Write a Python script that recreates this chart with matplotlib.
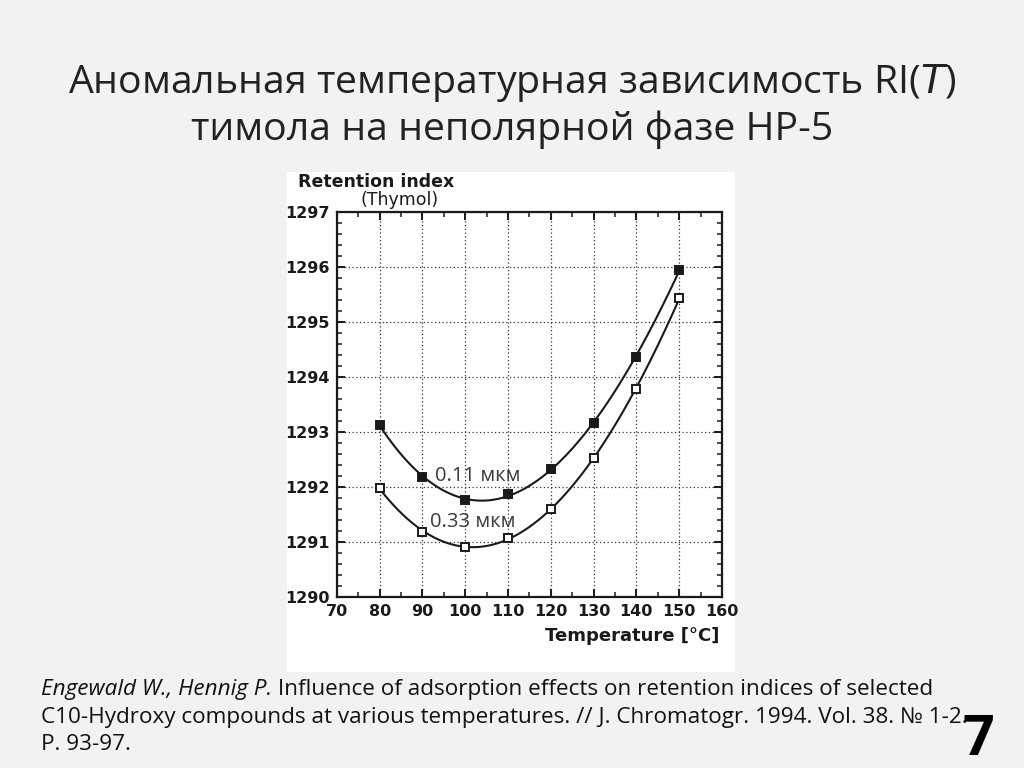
import matplotlib.pyplot as plt
import numpy as np
from matplotlib.patches import Rectangle
from matplotlib.ticker import MultipleLocator

temps = [80, 90, 100, 110, 120, 130, 140, 150]
ri_011 = [1293.13, 1292.18, 1291.76, 1291.87, 1292.33, 1293.16, 1294.37, 1295.94]
ri_033 = [1291.98, 1291.18, 1290.91, 1291.07, 1291.60, 1292.53, 1293.78, 1295.43]
x_ticks = [70, 80, 90, 100, 110, 120, 130, 140, 150, 160]
y_ticks = [1290, 1291, 1292, 1293, 1294, 1295, 1296, 1297]

title = "Аномальная температурная зависимость RI($\\mathit{T}$)\nтимола на неполярной фазе HP-5"
cite_authors = "Engewald W., Hennig P."
cite_lines = [
    " Influence of adsorption effects on retention indices of selected",
    "C10-Hydroxy compounds at various temperatures. // J. Chromatogr. 1994. Vol. 38. № 1-2.",
    "P. 93-97.",
]
BG = "#f2f2f2"
INK = "#1a1a1a"

fig = plt.figure(figsize=(10.24, 7.68), dpi=100, facecolor=BG)
fig.patches.append(Rectangle((0.280, 0.125), 0.4375, 0.651, transform=fig.transFigure,
                             facecolor="white", edgecolor="none", zorder=-10))

fig.text(0.5, 0.862, title, ha="center", va="center", fontsize=28.3,
         family="Open Sans", color="#222222", linespacing=1.22)

ax = fig.add_axes([0.329, 0.2227, 0.376, 0.5013])
ax.set_facecolor("white")

# smooth fitted curve through each series, as in the original figure
t_fit = np.linspace(80, 150, 200)
for vals, face in [(ri_011, INK), (ri_033, "white")]:
    coef = np.polyfit(temps, vals, 3)
    ax.plot(t_fit, np.polyval(coef, t_fit), color=INK, lw=1.5, zorder=3)
    ax.plot(temps, vals, ls="none", marker="s", ms=6, mfc=face, mec=INK,
            mew=1.4, zorder=4)

ax.set_xlim(70, 160)
ax.set_ylim(1290, 1297)
ax.set_xticks(x_ticks)
ax.set_yticks(y_ticks)
ax.xaxis.set_minor_locator(MultipleLocator(5))
ax.yaxis.set_minor_locator(MultipleLocator(0.2))
ax.grid(True, which="major", ls=(0, (1, 2)), color="#333333", lw=0.9)
ax.tick_params(which="both", direction="in", top=True, right=True, color=INK)
ax.tick_params(which="major", length=6, width=1.4, labelsize=11.5, pad=5)
ax.tick_params(which="minor", length=3.5, width=1.1)
for lab in ax.get_xticklabels() + ax.get_yticklabels():
    lab.set_fontweight("bold")
    lab.set_color(INK)
for sp in ax.spines.values():
    sp.set_linewidth(1.6)
    sp.set_color(INK)

ax.text(93, 1292.2, "0.11 мкм", fontsize=14.5, family="Open Sans", color="#3a3a3a",
        va="center", ha="left", zorder=5)
ax.text(91.7, 1291.36, "0.33 мкм", fontsize=14.5, family="Open Sans", color="#3a3a3a",
        va="center", ha="left", zorder=5)

fig.text(0.291, 0.763, "Retention index", fontsize=12.5, fontweight="bold",
         color=INK, va="center", ha="left")
fig.text(0.352, 0.740, "(Thymol)", fontsize=12.5, color=INK, va="center", ha="left")
fig.text(0.703, 0.172, "Temperature [°C]", fontsize=13, fontweight="bold",
         color=INK, va="center", ha="right")

# citation: italic authors followed by plain text
cite_size = 16.2
y0 = 1 - 690 / 768
step = 27.5 / 768
renderer = fig.canvas.get_renderer()
auth = fig.text(0.040, y0, cite_authors, fontsize=cite_size, family="Open Sans",
                style="italic", color="#111111", ha="left", va="center")
w = auth.get_window_extent(renderer).width / fig.bbox.width
fig.text(0.040 + w, y0, cite_lines[0], fontsize=cite_size, family="Open Sans",
         color="#111111", ha="left", va="center")
for i, line in enumerate(cite_lines[1:], start=1):
    fig.text(0.040, y0 - i * step, line, fontsize=cite_size, family="Open Sans",
             color="#111111", ha="left", va="center")

fig.text(0.955, 0.036, "7", fontsize=40, fontweight="bold", family="Open Sans",
         color="black", ha="center", va="center")

fig.savefig("out.png", dpi=100, facecolor=BG)
